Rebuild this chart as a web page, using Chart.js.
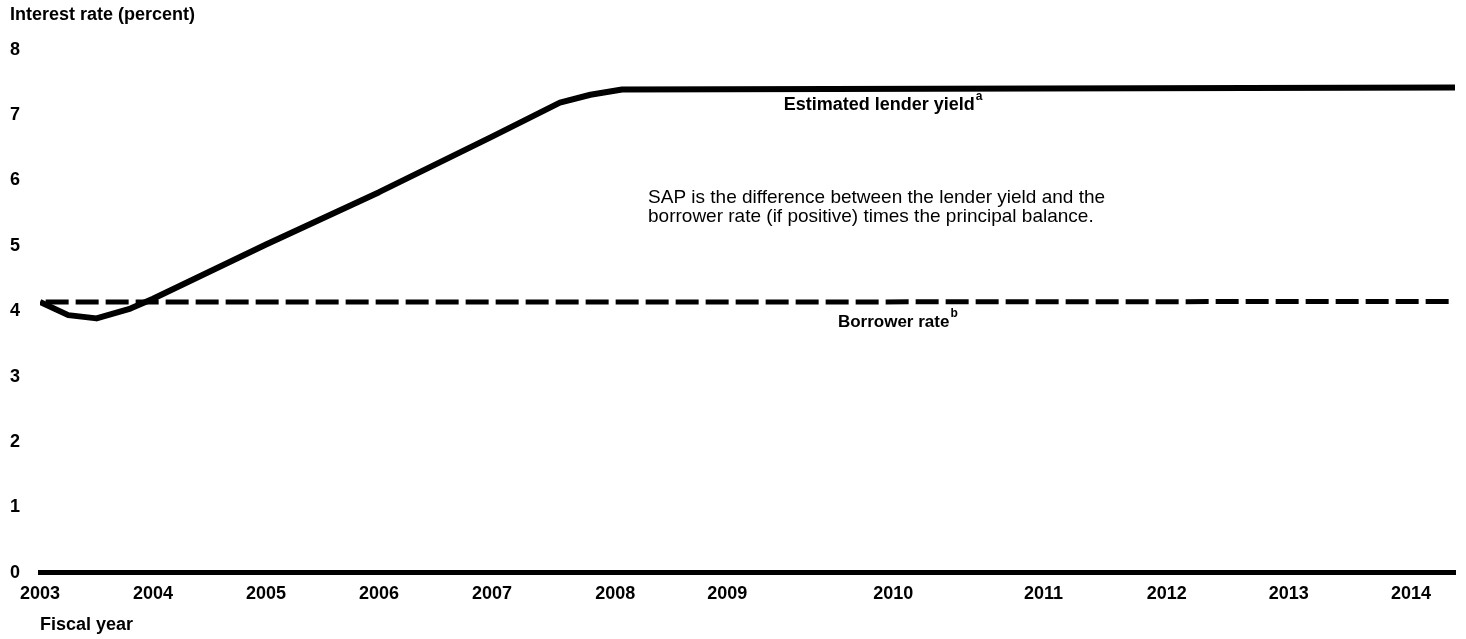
<!DOCTYPE html>
<html>
<head>
<meta charset="utf-8">
<script src="https://cdn.jsdelivr.net/npm/chart.js@4.4.1/dist/chart.umd.min.js"></script>
<style>
  html, body { margin: 0; padding: 0; background: #fff; }
  #wrap { width: 1466px; height: 639px; }
</style>
</head>
<body>
<div id="wrap"><canvas id="myChart"></canvas></div>
<script>
// positions along the fiscal-year axis and the rates
let lenderYears = [2003.0, 2003.25, 2003.5, 2003.8, 2004.0, 2005.0, 2006.0, 2007.0, 2007.6, 2007.87, 2008.15, 2015.52]
let lenderYield = [4.14, 3.94, 3.89, 4.04, 4.19, 5.02, 5.82, 6.67, 7.19, 7.31, 7.39, 7.42]
let borrowerYears = [2003.05, 2009.0, 2015.52]
let borrowerRate = [4.14, 4.14, 4.15]

// the year labels are not evenly spaced in the original, so keep where each one sits
let yearLabels = ["2003","2004","2005","2006","2007","2008","2009","2010","2011","2012","2013","2014"]
let yearTickAt = [2003, 2004, 2005, 2006, 2007, 2008.09, 2009.08, 2010.55, 2011.88, 2012.97, 2014.05, 2015.13]
let rateTicks = [0, 1, 2, 3, 4, 5, 6, 7, 8]

const FONT = '"Liberation Sans", Arial, Helvetica, sans-serif'

function pairs(xs, ys) {
  return xs.map((v, i) => ({ x: v, y: ys[i] }))
}

// text labels drawn on the plot
const notes = {
  id: 'notes',
  afterDatasetsDraw(chart) {
    const ctx = chart.ctx
    const x = chart.scales.x
    const y = chart.scales.y
    ctx.save()
    ctx.fillStyle = '#000'
    ctx.textAlign = 'left'
    ctx.textBaseline = 'middle'

    function tag(text, sup, xv, yv, size) {
      const px = x.getPixelForValue(xv)
      const py = y.getPixelForValue(yv)
      ctx.font = 'bold ' + size + 'px ' + FONT
      ctx.fillText(text, px, py)
      const w = ctx.measureText(text).width
      ctx.font = 'bold 12px ' + FONT
      ctx.fillText(sup, px + w + 1, py - 9)
    }
    tag('Estimated lender yield', 'a', 2009.58, 7.15, 18)
    tag('Borrower rate', 'b', 2010.06, 3.83, 17)

    ctx.font = '19px ' + FONT
    const sx = x.getPixelForValue(2008.38)
    const sy = y.getPixelForValue(5.74)
    ctx.fillText('SAP is the difference between the lender yield and the', sx, sy)
    ctx.fillText('borrower rate (if positive) times the principal balance.', sx, sy + 19)
    ctx.restore()
  }
}

let myLineChart = document.getElementById("myChart").getContext('2d');
new Chart(myLineChart, {
    type: 'line',
    data: {
        datasets: [
            {
              label: "Estimated lender yield",
              data: pairs(lenderYears, lenderYield),
              borderColor: '#000',
              borderWidth: 6,
              borderJoinStyle: 'round',
              pointRadius: 0,
              tension: 0
            },
            {
              label: "Borrower rate",
              data: pairs(borrowerYears, borrowerRate),
              borderColor: '#000',
              borderWidth: 5,
              borderDash: [23, 7],
              pointRadius: 0,
              tension: 0
            }
          ]
        },
    options: {
        responsive: true,
        maintainAspectRatio: false,
        animation: false,
        layout: { padding: { left: 10, right: 11, top: 0, bottom: 3 } },
        plugins: {
            legend: { display: false },
            tooltip: { enabled: false },
            title: {
                display: true,
                text: 'Interest rate (percent)',
                align: 'start',
                color: '#000',
                font: { family: FONT, size: 18, weight: 'bold' },
                padding: { top: 4, bottom: 24 }
            }
        },
        scales: {
            x: {
                type: 'linear',
                min: 2003,
                max: 2015.52,
                grid: { display: false, drawTicks: false },
                border: { display: true, color: '#000', width: 5 },
                afterBuildTicks: (s) => { s.ticks = yearTickAt.map(v => ({ value: v })) },
                ticks: {
                    autoSkip: false,
                    maxRotation: 0,
                    padding: 10,
                    color: '#000',
                    font: { family: FONT, size: 18, weight: 'bold' },
                    callback: (v, i) => yearLabels[i]
                },
                title: {
                    display: true,
                    text: 'Fiscal year',
                    align: 'start',
                    color: '#000',
                    font: { family: FONT, size: 18, weight: 'bold' },
                    padding: { top: 0, bottom: 0 }
                }
            },
            y: {
                min: 0,
                max: 8,
                grid: { display: false, drawTicks: false },
                border: { display: false },
                afterBuildTicks: (s) => { s.ticks = rateTicks.map(v => ({ value: v })) },
                afterFit: (s) => { s.width = 30 },
                ticks: {
                    crossAlign: 'far',
                    color: '#000',
                    font: { family: FONT, size: 18, weight: 'bold' }
                }
            }
        }
    },
    plugins: [notes]
});
</script>
</body>
</html>
